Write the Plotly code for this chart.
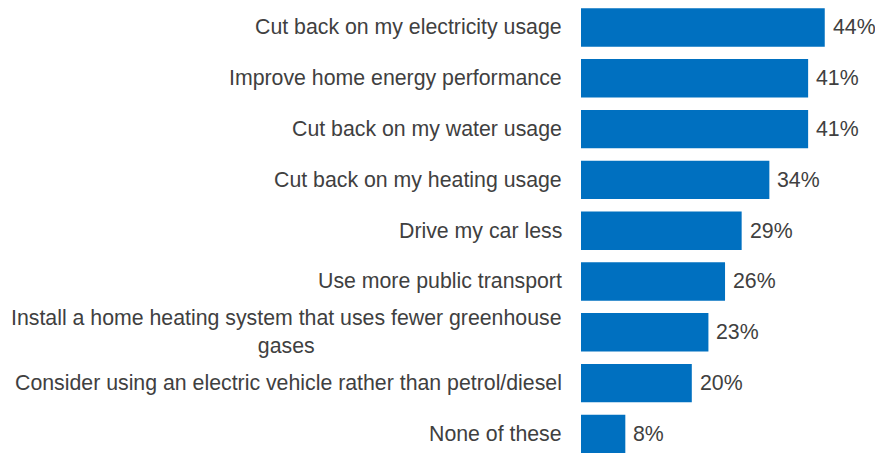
import plotly.graph_objects as go

categories = [
    "Cut back on my electricity usage",
    "Improve home energy performance",
    "Cut back on my water usage",
    "Cut back on my heating usage",
    "Drive my car less",
    "Use more public transport",
    "Install a home heating system that uses fewer greenhouse<br>gases",
    "Consider using an electric vehicle rather than petrol/diesel",
    "None of these",
]
values = [44, 41, 41, 34, 29, 26, 23, 20, 8]
value_labels = [f"{v}%" for v in values]

FONT = "Arial, Liberation Sans, sans-serif"
TXT = "#404040"
ids = list(range(len(categories)))

fig = go.Figure(go.Bar(
    x=values, y=ids, orientation="h",
    marker=dict(color="#0070C0", line=dict(width=0)),
    hoverinfo="skip",
))

annotations = []
for i, (c, v, lab) in enumerate(zip(categories, values, value_labels)):
    annotations.append(dict(
        x=0, y=i, xref="x", yref="y", text=c, showarrow=False,
        xanchor="right", yanchor="middle", align="center", xshift=-17,
        font=dict(family=FONT, size=21.3, color=TXT),
    ))
    annotations.append(dict(
        x=v, y=i, xref="x", yref="y", text=lab, showarrow=False,
        xanchor="left", yanchor="middle", xshift=6,
        font=dict(family=FONT, size=21.3, color=TXT),
    ))

fig.update_layout(
    width=875, height=453,
    margin=dict(l=581, r=0, t=0, b=0, autoexpand=False),
    paper_bgcolor="white", plot_bgcolor="white",
    bargap=0.244,
    showlegend=False,
    xaxis=dict(range=[0, 53.07], visible=False, fixedrange=True),
    yaxis=dict(range=[8.376, -0.541], visible=False, fixedrange=True),
    annotations=annotations,
)

fig.write_html("out.html", config={"displayModeBar": False},
               post_script="document.body.style.margin='0';")
